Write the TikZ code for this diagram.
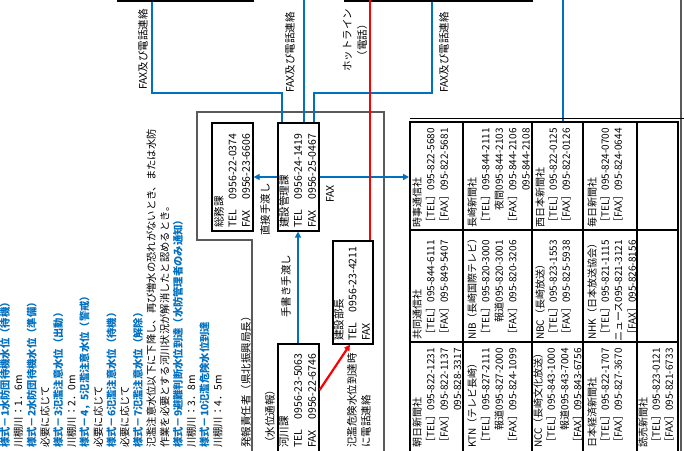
\documentclass[tikz,border=0pt]{standalone}
\usepackage{fontspec}
\setmainfont{Noto Sans CJK JP}
\usetikzlibrary{calc,arrows.meta}
\definecolor{xblue}{RGB}{0,112,192}
\definecolor{framegray}{RGB}{90,90,90}
\begin{document}
\begin{tikzpicture}[x=1pt,y=-1pt,
  box/.style={draw=black,line width=1.6pt,inner sep=0pt,anchor=north west},
  vt/.style={rotate=90,anchor=west,inner sep=0pt,font=\fontsize{10.5}{12}\selectfont},
  lt/.style={rotate=90,anchor=west,inner sep=0pt,font=\fontsize{10.3}{12}\selectfont},
  lb/.style={lt,text=xblue,font=\fontsize{10.3}{12}\selectfont\bfseries},
  tt/.style={rotate=90,anchor=west,inner sep=0pt,font=\fontsize{10}{12}\selectfont},
  tte/.style={tt,anchor=east},
  bl/.style={draw=xblue,line width=1.8pt},
  rd/.style={draw=red,line width=2.2pt},
  tip/.style={-{Triangle[length=6pt,width=6pt]}},
  frame/.style={draw=framegray,line width=1.4pt},
  grid/.style={draw=black,line width=1.2pt}]
\useasboundingbox (0,0) rectangle (684,450);
\clip (0,0) rectangle (684,450);
\fill[white] (0,0) rectangle (684,450);

% top boxes (cut off)
\node[box,anchor=south west,minimum width=135pt,minimum height=30pt] (top1) at (117,2) {};
\node[box,anchor=south west,minimum width=187pt,minimum height=30pt] (top2) at (344,2) {};

% outer frame
\draw[frame] (252,460) -- (252,240) -- (197,240) -- (197,112) -- (384,112) -- (384,460);
\draw[frame] (681,-5) -- (681,460);

% office boxes
\node[box,minimum width=41pt,minimum height=108pt] (soumu) at (211,122) {};
\node[box,minimum width=41pt,minimum height=108pt] (kanri) at (277,122) {};
\node[box,minimum width=41pt,minimum height=120pt] (kasen) at (277,343) {};
\node[box,minimum width=40pt,minimum height=103pt] (bucho) at (332,240) {};

\node[vt] (s1) at (219,228) {総務課};
\node[vt] (s2) at (232.5,228) {TEL　0956-22-0374};
\node[vt] (s3) at (246,228) {FAX　0956-23-6606};
\node[vt] (k1) at (284,228) {建設管理課};
\node[vt] (k2) at (298,228) {TEL　0956-24-1419};
\node[vt] (k3) at (312,228) {FAX　0956-25-0467};
\node[vt] (r1) at (284,448) {河川課};
\node[vt] (r2) at (298,448) {TEL　0956-23-5063};
\node[vt] (r3) at (312,448) {FAX　0956-22-6746};
\node[vt] (rh) at (270,448) {（水位通報）};
\node[vt] (b1) at (339,341) {建設部長};
\node[vt] (b2) at (352.5,341) {TEL　0956-23-4211};
\node[vt] (b3) at (366,341) {FAX};

% connectors
\coordinate (jA) at (282,93);
\coordinate (jC) at (314,93);
\coordinate (bTop) at (304,-5);
\coordinate (dTop) at (563,-5);
\coordinate (redTop) at (370,-5);
\draw[bl] ($(top1.south west)+(35,0)$) |- (jA) -- ($(kanri.north west)+(5,0)$);
\draw[bl] (bTop) -- ($(kanri.north west)+(27,0)$);
\draw[bl] ($(kanri.north west)+(37,0)$) -- (jC) -| ($(top2.south west)+(88,0)$);
\draw[bl] (dTop) -- (563,121);
\draw[bl,tip] ($(kanri.north east)+(0,55)$) -- (409,177);
\draw[bl,tip] ($(kanri.north west)+(0,55)$) -- ($(soumu.north east)+(0,55)$);
\draw[bl,tip] ($(kasen.north west)+(21,0)$) -- ($(kanri.south west)+(21,0)$);
\draw[rd] (redTop) -- ($(bucho.north west)+(38,0)$);
\draw[rd,tip] ($(kasen.north east)+(0,47)$) -- ($(bucho.south west)+(18,0)$);

% connector labels
\node[vt] (lA) at (143,90) {FAX及び電話連絡};
\node[vt] (lB) at (290,93) {FAX及び電話連絡};
\node[vt] (lC) at (444,93) {FAX及び電話連絡};
\node[rotate=90,inner sep=0pt,align=center,font=\fontsize{10.5}{15}\selectfont] (lHot) at (355,40) {ホットライン\\（電話）};
\node[vt] (lFax) at (330,203) {FAX};
\node[vt] (lDirect) at (265,236) {直接手渡し};
\node[vt] (lHand) at (286,318) {手書き手渡し};
\node[vt] (lRed1) at (352,448) {氾濫危険水位到達時};
\node[vt] (lRed2) at (366,448) {に電話連絡};
\node[vt] (lHatsu) at (246,448) {発報責任者（県北振興局長）};

% left text block
\node[lb] (L0) at (5,448) {様式－1水防団待機水位（待機）};
\node[lt] (L1) at (18.3,448) {川棚川：1．6m};
\node[lb] (L2) at (31.6,448) {様式－2水防団待機水位（準備）};
\node[lt] (L3) at (44.9,448) {必要に応じて};
\node[lb] (L4) at (58.2,448) {様式－3氾濫注意水位（出動）};
\node[lt] (L5) at (71.5,448) {川棚川：2．0m};
\node[lb] (L6) at (84.8,448) {様式－4，5氾濫注意水位（警戒）};
\node[lt] (L7) at (98.1,448) {必要に応じて};
\node[lb] (L8) at (111.4,448) {様式－6氾濫注意水位（待機）};
\node[lt] (L9) at (124.7,448) {必要に応じて};
\node[lb] (L10) at (138,448) {様式－7氾濫注意水位（解除）};
\node[lt] (L11) at (151.3,448) {氾濫注意水位以下に下降し、再び増水の恐れがないとき、または水防};
\node[lt] (L12) at (164.6,448) {作業を必要とする河川状況が解消したと認めるとき。};
\node[lb] (L13) at (177.9,448) {様式－9避難判断水位到達（水防管理者のみ通知）};
\node[lt] (L14) at (191.2,448) {川棚川：3．8m};
\node[lb] (L15) at (204.5,448) {様式－10氾濫危険水位到達};
\node[lt] (L16) at (217.8,448) {川棚川：4．5m};

% media table
\draw[black,line width=1.2pt] (410,118.5) -- (684,118.5);
\draw[black,line width=2pt] (410,122) rectangle (678,460);
\draw[grid] (463,122) -- (463,460);
\draw[grid] (532,122) -- (532,460);
\draw[grid] (583,122) -- (583,460);
\draw[grid] (637,122) -- (637,460);
\draw[grid] (410,230) -- (678,230);
\draw[grid] (410,342) -- (678,342);

% row 1
\node[tt] (a11) at (417,228) {時事通信社};
\node[tt] (a12) at (430.5,228) {［TEL］095-822-5680};
\node[tt] (a13) at (444,228) {［FAX］095-822-5681};
\node[tt] (a21) at (472,228) {長崎新聞社};
\node[tt] (a22) at (485.5,228) {［TEL］095-844-2111};
\node[tte] (a23) at ($(a22.east)+(13.5,0)$) {夜間095-844-2103};
\node[tt] (a24) at (512.5,228) {［FAX］095-844-2106};
\node[tte] (a25) at ($(a24.east)+(13.5,0)$) {095-844-2108};
\node[tt] (a31) at (540,228) {西日本新聞社};
\node[tt] (a32) at (553,228) {［TEL］095-822-0125};
\node[tt] (a33) at (566,228) {［FAX］095-822-0126};
\node[tt] (a41) at (592,228) {毎日新聞社};
\node[tt] (a42) at (605,228) {［TEL］095-824-0700};
\node[tt] (a43) at (618,228) {［FAX］095-824-0644};
% row 2
\node[tt] (b11) at (417,340) {共同通信社};
\node[tt] (b12) at (430.5,340) {［TEL］095-844-6111};
\node[tt] (b13) at (444,340) {［FAX］095-849-5407};
\node[tt] (b21) at (472,340) {NIB（長崎国際テレビ）};
\node[tt] (b22) at (485.5,340) {［TEL］095-820-3000};
\node[tte] (b23) at ($(b22.east)+(13.5,0)$) {報道095-820-3001};
\node[tt] (b24) at (512.5,340) {［FAX］095-820-3206};
\node[tt] (b31) at (540,340) {NBC（長崎放送）};
\node[tt] (b32) at (553,340) {［TEL］095-823-1553};
\node[tt] (b33) at (566,340) {［FAX］095-825-5938};
\node[tt] (b41) at (592,340) {NHK（日本放送協会）};
\node[tt] (b42) at (605,340) {［TEL］095-821-1115};
\node[tte] (b43) at ($(b42.east)+(13.5,0)$) {ニュース095-821-3121};
\node[tt] (b44) at (632,340) {［FAX］095-826-8156};
% row 3
\node[tt] (c11) at (417,448) {朝日新聞社};
\node[tt] (c12) at (430.5,448) {［TEL］095-822-1231};
\node[tt] (c13) at (444,448) {［FAX］095-822-1137};
\node[tte] (c14) at ($(c13.east)+(13.5,0)$) {095-828-3317};
\node[tt] (c21) at (472,448) {KTN（テレビ長崎）};
\node[tt] (c22) at (485.5,448) {［TEL］095-827-2111};
\node[tte] (c23) at ($(c22.east)+(13.5,0)$) {報道095-827-2000};
\node[tt] (c24) at (512.5,448) {［FAX］095-824-1099};
\node[tt] (c31) at (538,448) {NCC（長崎文化放送）};
\node[tt] (c32) at (551,448) {［TEL］095-843-1000};
\node[tte] (c33) at ($(c32.east)+(13.5,0)$) {報道095-843-7004};
\node[tt] (c34) at (577.5,448) {［FAX］095-843-6756};
\node[tt] (c41) at (592,448) {日本経済新聞社};
\node[tt] (c42) at (605,448) {［TEL］095-822-1707};
\node[tt] (c43) at (618,448) {［FAX］095-827-3670};
\node[tt] (c51) at (643,448) {読売新聞社};
\node[tt] (c52) at (656,448) {［TEL］095-823-0121};
\node[tt] (c53) at (669,448) {［FAX］095-821-6733};
\end{tikzpicture}
\end{document}
